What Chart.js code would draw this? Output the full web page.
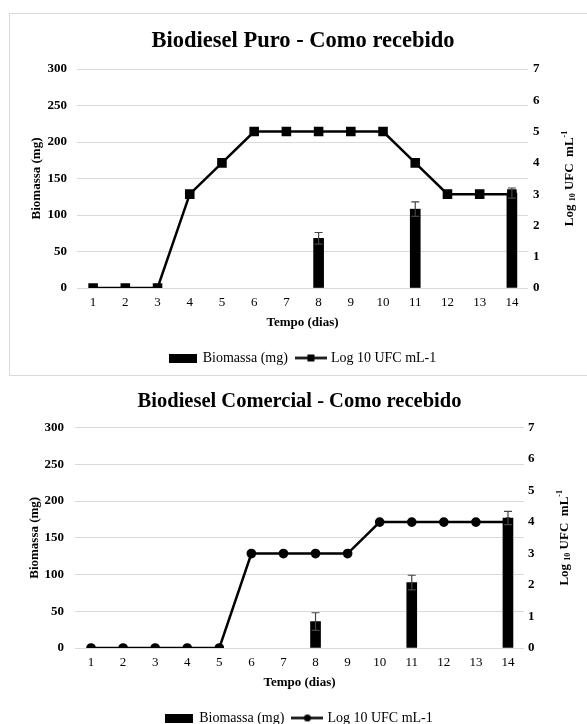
<!DOCTYPE html>
<html>
<head>
<meta charset="utf-8">
<script src="https://cdn.jsdelivr.net/npm/chart.js@4.4.0/dist/chart.umd.min.js"></script>
<style>
  body { margin: 0; width: 587px; height: 724px; overflow: hidden; background: #fff; position: relative; }
  #box1 { position: absolute; left: 9px; top: 13px; width: 620px; height: 361px; border: 1px solid #d9d9d9; }
  #wrap1 { position: absolute; left: 0; top: 0; width: 577px; height: 361px; }
  #wrap2 { position: absolute; left: 10px; top: 376px; width: 577px; height: 359px; }
</style>
</head>
<body>
<div id="box1"><div id="wrap1"><canvas id="chart1"></canvas></div></div>
<div id="wrap2"><canvas id="chart2"></canvas></div>

<script>
const days = ['1','2','3','4','5','6','7','8','9','10','11','12','13','14'];

// Biodiesel Puro
const puroBiomassa    = [null, null, null, null, null, null, null, 68, null, null, 108, null, null, 130];
const puroBiomassaErr = [null, null, null, null, null, null, null, 8, null, null, 10, null, null, 7];
const puroLog         = [0, 0, 0, 3, 4, 5, 5, 5, 5, 5, 4, 3, 3, 3];

// Biodiesel Comercial
const comBiomassa    = [null, null, null, null, null, null, null, 36, null, null, 89, null, null, 177];
const comBiomassaErr = [null, null, null, null, null, null, null, 12, null, null, 10, null, null, 9];
const comLog         = [0, 0, 0, 0, 0, 3, 3, 3, 3, 4, 4, 4, 4, 4];

const biomassaMax = 300, biomassaStep = 50;
const logMax = 7, logStep = 1;

const serif = 'Liberation Serif';
Chart.defaults.color = '#000';
Chart.defaults.font.family = serif;

function legendBar() {
  const c = document.createElement('canvas');
  c.width = 28; c.height = 9;
  const g = c.getContext('2d');
  g.fillStyle = '#000';
  g.fillRect(0, 0, 28, 9);
  return c;
}

function legendLine(marker) {
  const c = document.createElement('canvas');
  c.width = 32; c.height = 9;
  const g = c.getContext('2d');
  g.strokeStyle = '#000';
  g.lineWidth = 2.5;
  g.beginPath(); g.moveTo(0, 4.5); g.lineTo(32, 4.5); g.stroke();
  g.fillStyle = '#000';
  if (marker === 'rect') g.fillRect(12.5, 1, 7, 7);
  else { g.beginPath(); g.arc(16, 4.5, 3.5, 0, Math.PI * 2); g.fill(); }
  return c;
}

// error bars on the biomass bars
const errorBars = {
  id: 'errorBars',
  afterDatasetsDraw(chart) {
    const ds = chart.data.datasets[0];
    const meta = chart.getDatasetMeta(0);
    const y = chart.scales.y;
    const ctx = chart.ctx;
    ctx.save();
    ctx.strokeStyle = '#444';
    ctx.lineWidth = 1.2;
    meta.data.forEach((bar, i) => {
      const v = ds.data[i], e = ds.errors[i];
      if (v == null || e == null) return;
      const top = y.getPixelForValue(v + e);
      const bot = y.getPixelForValue(v - e);
      ctx.beginPath();
      ctx.moveTo(bar.x, top); ctx.lineTo(bar.x, bot);
      ctx.moveTo(bar.x - 4, top); ctx.lineTo(bar.x + 4, top);
      ctx.moveTo(bar.x - 4, bot); ctx.lineTo(bar.x + 4, bot);
      ctx.stroke();
    });
    ctx.restore();
  }
};

// right axis title: reads bottom-to-top, with subscript 10 and superscript -1
const rightTitle = {
  id: 'rightTitle',
  afterDraw(chart) {
    const s = chart.scales.y1;
    const ctx = chart.ctx;
    const parts = [
      { t: 'Log ', size: 13, dy: 0 },
      { t: '10', size: 8, dy: 3 },
      { t: ' UFC  mL', size: 13, dy: 0 },
      { t: '-1', size: 8, dy: -5 }
    ];
    let total = 0;
    parts.forEach(p => {
      ctx.font = 'bold ' + p.size + 'px "' + serif + '"';
      p.w = ctx.measureText(p.t).width;
      total += p.w;
    });
    const cx = s.right - 11;
    const cy = (chart.chartArea.top + chart.chartArea.bottom) / 2;
    ctx.save();
    ctx.translate(cx, cy);
    ctx.rotate(-Math.PI / 2);
    ctx.fillStyle = '#000';
    ctx.textBaseline = 'middle';
    let x = -total / 2;
    parts.forEach(p => {
      ctx.font = 'bold ' + p.size + 'px "' + serif + '"';
      ctx.fillText(p.t, x, p.dy);
      x += p.w;
    });
    ctx.restore();
  }
};

function makeChart(id, cfg) {
  const legendIcons = [legendBar(), legendLine(cfg.marker)];
  return new Chart(document.getElementById(id), {
    type: 'bar',
    data: {
      labels: days,
      datasets: [{
        type: 'bar',
        label: 'Biomassa (mg)',
        data: cfg.biomassa,
        errors: cfg.errors,
        backgroundColor: '#000',
        barThickness: 10,
        yAxisID: 'y',
        order: 1
      }, {
        type: 'line',
        label: 'Log 10 UFC mL-1',
        data: cfg.log,
        borderColor: '#000',
        backgroundColor: '#000',
        borderWidth: 2.5,
        pointStyle: cfg.marker,
        pointRadius: cfg.marker === 'rect' ? 5 : 3.6,
        tension: 0,
        yAxisID: 'y1',
        order: 0
      }]
    },
    options: {
      responsive: true,
      maintainAspectRatio: false,
      animation: false,
      layout: { padding: { left: cfg.padLeft, right: cfg.padRight, top: 0, bottom: 0 } },
      plugins: {
        title: {
          display: true,
          text: cfg.title,
          font: { size: cfg.titleSize, weight: 'bold', family: serif },
          padding: { top: cfg.titleTop, bottom: cfg.titleBottom }
        },
        legend: {
          position: 'bottom',
          labels: {
            usePointStyle: true,
            pointStyleWidth: 26,
            padding: 10,
            font: { size: 14, family: serif },
            generateLabels(chart) {
              const items = Chart.defaults.plugins.legend.labels.generateLabels(chart);
              items.forEach(it => { it.pointStyle = legendIcons[it.datasetIndex]; });
              return items;
            },
            sort: (a, b) => a.datasetIndex - b.datasetIndex
          }
        },
        tooltip: { enabled: false }
      },
      scales: {
        x: {
          grid: { display: false, drawTicks: false },
          border: { display: false },
          ticks: { padding: 7, font: { size: 13, family: serif } },
          title: {
            display: true,
            text: 'Tempo (dias)',
            font: { size: 13, weight: 'bold', family: serif },
            padding: { top: 11, bottom: 11 }
          },
          afterFit(s) { s.height = 53; }
        },
        y: {
          position: 'left',
          min: 0, max: biomassaMax,
          grid: { color: '#d9d9d9', drawTicks: false },
          border: { display: false },
          ticks: { stepSize: biomassaStep, padding: cfg.leftPad, font: { size: 13, weight: 'bold', family: serif } },
          title: {
            display: true,
            text: 'Biomassa (mg)',
            font: { size: 13, weight: 'bold', family: serif }
          },
          afterFit(s) { s.width = 52; }
        },
        y1: {
          position: 'right',
          min: 0, max: logMax,
          grid: { display: false, drawTicks: false },
          border: { display: false },
          ticks: { stepSize: logStep, padding: cfg.rightPad, font: { size: 13, weight: 'bold', family: serif } },
          afterFit(s) { s.width = cfg.rightWidth; }
        }
      }
    },
    plugins: [errorBars, rightTitle]
  });
}

makeChart('chart1', {
  title: 'Biodiesel Puro - Como recebido',
  biomassa: puroBiomassa, errors: puroBiomassaErr, log: puroLog,
  marker: 'rect',
  titleSize: 22.5, titleTop: 14, titleBottom: 14,
  padLeft: 15, padRight: 6, rightWidth: 53,
  leftPad: 10, rightPad: 5
});

makeChart('chart2', {
  title: 'Biodiesel Comercial - Como recebido',
  biomassa: comBiomassa, errors: comBiomassaErr, log: comLog,
  marker: 'circle',
  titleSize: 20.5, titleTop: 13, titleBottom: 14,
  padLeft: 13, padRight: 11, rightWidth: 52,
  leftPad: 11, rightPad: 4
});
</script>
</body>
</html>
